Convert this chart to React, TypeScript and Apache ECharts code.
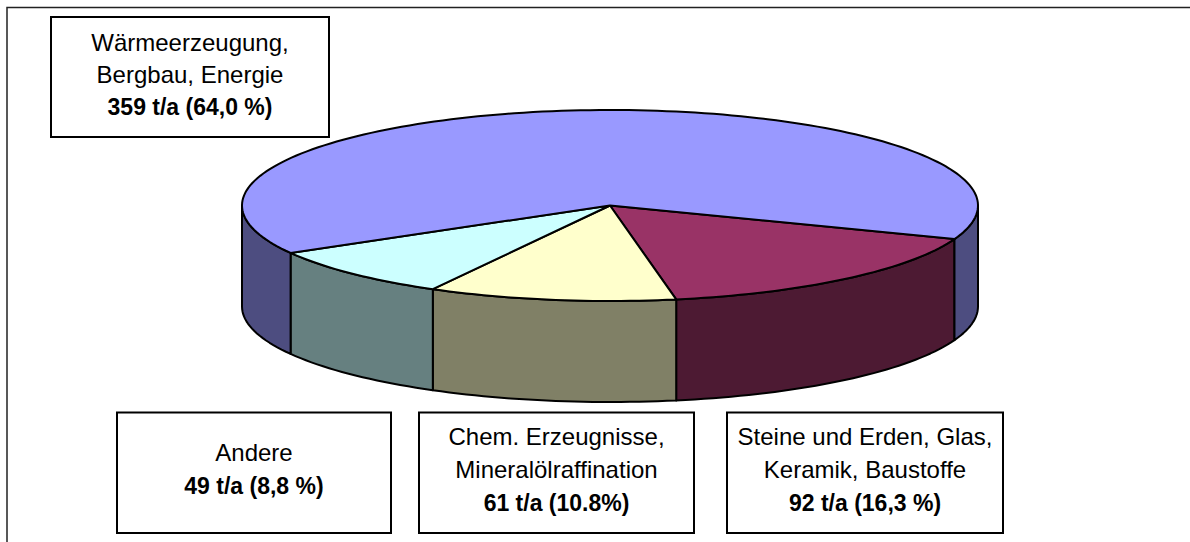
import React, { useEffect, useRef } from "react";
import * as echarts from "echarts";

const categories = ["Steine und Erden, Glas, Keramik, Baustoffe", "Chem. Erzeugnisse, Mineralölraffination", "Andere", "Wärmeerzeugung, Bergbau, Energie"];
const values = [92, 61, 49, 359];
const topColors = ["#993366", "#ffffcc", "#ccffff", "#9999ff"];
const wallColors = ["#4d1a33", "#808066", "#668080", "#4d4d80"];
const labelNames = [
  ["Steine und Erden, Glas,", "Keramik, Baustoffe"],
  ["Chem. Erzeugnisse,", "Mineralölraffination"],
  ["Andere"],
  ["Wärmeerzeugung,", "Bergbau, Energie"],
];
const labelValues = ["92 t/a (16,3 %)", "61 t/a (10.8%)", "49 t/a (8,8 %)", "359 t/a (64,0 %)"];

const CX = 610, CY = 205.5, RX = 368, RY = 95.5, DEPTH = 101, START = 20.6;
const total = values.reduce((a, b) => a + b, 0);
const rad = (d: number) => (d * Math.PI) / 180;
const pt = (deg: number, dy = 0) => [CX + RX * Math.cos(rad(deg)), CY + RY * Math.sin(rad(deg)) + dy];
const arc = (a: number, b: number, dy = 0) => {
  const n = Math.max(2, Math.ceil(Math.abs(b - a) / 1.5));
  const out: number[][] = [];
  for (let i = 0; i <= n; i++) out.push(pt(a + ((b - a) * i) / n, dy));
  return out;
};
const span = (idx: number) => {
  const before = values.slice(0, idx).reduce((a, b) => a + b, 0);
  return [START + (before / total) * 360, START + ((before + values[idx]) / total) * 360];
};
const stroke = { stroke: "#000", lineWidth: 2, lineJoin: "round" };

const wallItem = (params: any) => {
  const i = params.dataIndex;
  const [a, b] = span(i);
  const children: any[] = [];
  [[0, 180], [360, 540]].forEach(([lo, hi]) => {
    const s = Math.max(a, lo), e = Math.min(b, hi);
    if (e > s) {
      const points = [...arc(s, e), ...arc(e, s, DEPTH)];
      children.push({ type: "polygon", shape: { points }, style: { fill: wallColors[i], ...stroke } });
    }
  });
  return { type: "group", children };
};
const topItem = (params: any) => {
  const i = params.dataIndex;
  const [a, b] = span(i);
  return { type: "polygon", shape: { points: [[CX, CY], ...arc(a, b)] }, style: { fill: topColors[i], ...stroke } };
};

const box = (x: number, y: number, w: number, h: number, idx: number, lineYs: number[]) => {
  const lines = [...labelNames[idx], labelValues[idx]];
  return [
    { type: "rect", shape: { x, y, width: w, height: h }, style: { fill: "#fff", stroke: "#000", lineWidth: 2 } },
    ...lines.map((t, k) => ({
      type: "text",
      x: x + w / 2,
      y: lineYs[k],
      style: {
        text: t,
        fill: "#000",
        align: "center",
        verticalAlign: "middle",
        font: k === lines.length - 1 ? `bold 23px "Liberation Sans", Arial, sans-serif` : `24px "Liberation Sans", Arial, sans-serif`,
      },
    })),
  ];
};

export default function App() {
  const ref = useRef<HTMLDivElement>(null);
  useEffect(() => {
    document.body.style.margin = "0";
    const chart = echarts.init(ref.current!, null, { renderer: "svg" });
    const data = categories.map((name, i) => ({ name, value: values[i] }));
    chart.setOption({
      animation: false,
      backgroundColor: "#fff",
      tooltip: { show: false },
      series: [
        { type: "custom", coordinateSystem: "none", renderItem: wallItem, data, z: 2, silent: true },
        { type: "custom", coordinateSystem: "none", renderItem: topItem, data, z: 3, silent: true },
      ],
      graphic: {
        elements: [
          { type: "polyline", z: 1, shape: { points: [[7, 560], [7, 7.5], [1200, 7.5]] }, style: { fill: "none", stroke: "#222", lineWidth: 1.5 } },
          ...box(51, 17, 278, 120, 3, [42, 74.5, 107]),
          ...box(117, 412.5, 274, 120.5, 2, [452, 486]),
          ...box(419, 412.5, 275, 120.5, 1, [436.5, 469.5, 502.5]),
          ...box(727, 412.5, 276, 120.5, 0, [436.5, 469.5, 502.5]),
        ],
      },
    });
    return () => chart.dispose();
  }, []);
  return <div ref={ref} style={{ width: 1190, height: 542 }} />;
}
